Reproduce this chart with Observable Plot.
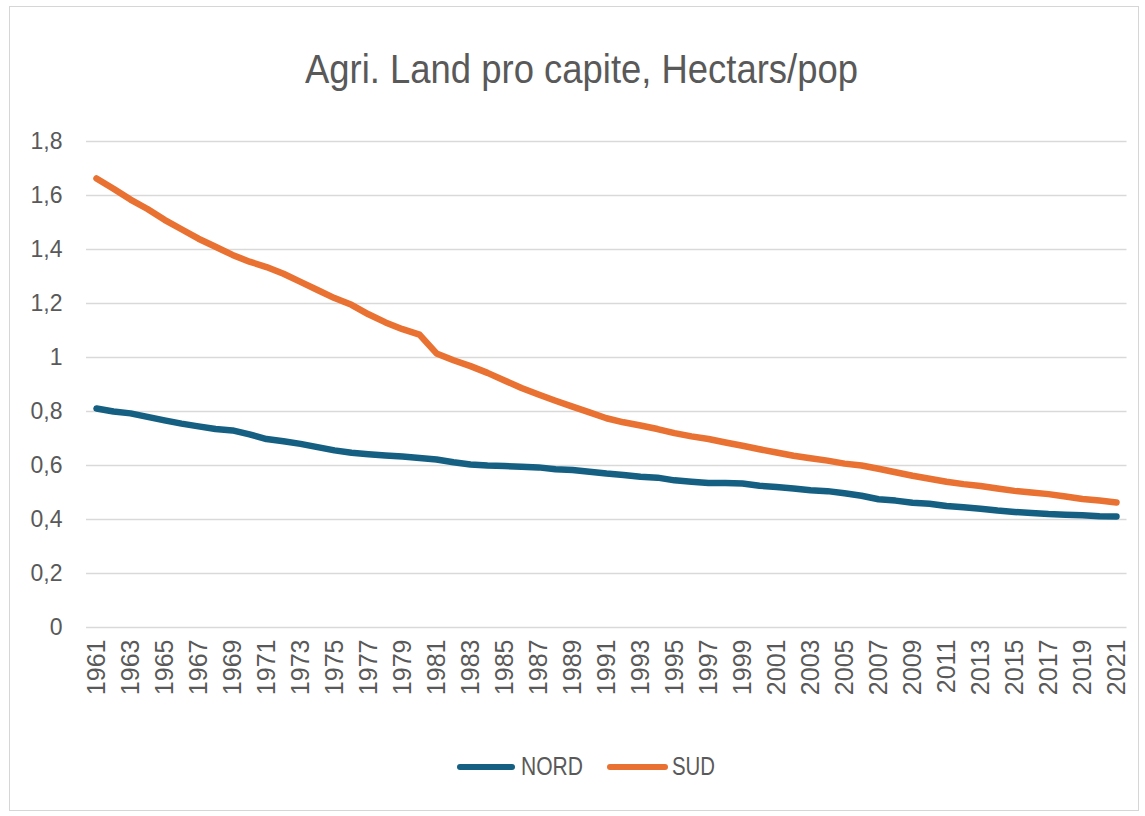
<!DOCTYPE html>
<html>
<head>
<meta charset="utf-8">
<script src="https://cdn.jsdelivr.net/npm/d3@7"></script>
<script src="https://cdn.jsdelivr.net/npm/@observablehq/plot@0.6"></script>
<style>
  html, body { margin: 0; padding: 0; background: #ffffff; }
  body { width: 1145px; height: 816px; position: relative; overflow: hidden; font-family: "Liberation Sans", Arial, sans-serif; }
  #frame { position: absolute; left: 9px; top: 6px; width: 1130px; height: 805px; border: 1.5px solid #d6d6d6; box-sizing: border-box; }
  #chart { position: absolute; left: 0; top: 0; }
  .txt { position: absolute; white-space: nowrap; color: #595959; transform-origin: 0 0; }
  #title { font-size: 40px; line-height: 40px; top: 49px; }
  .leg { font-size: 26px; line-height: 26px; top: 753px; }
  .sw { position: absolute; height: 6px; border-radius: 3px; top: 764px; }
</style>
</head>
<body>
<div id="frame"></div>
<div id="chart"></div>
<div id="title" class="txt">Agri. Land pro capite, Hectars/pop</div>
<div class="sw" style="left:457px;width:58px;background:#156082"></div>
<div id="legN" class="txt leg">NORD</div>
<div class="sw" style="left:607px;width:61px;background:#E97132"></div>
<div id="legS" class="txt leg">SUD</div>
<script>
const years = [1961,1962,1963,1964,1965,1966,1967,1968,1969,1970,
  1971,1972,1973,1974,1975,1976,1977,1978,1979,1980,
  1981,1982,1983,1984,1985,1986,1987,1988,1989,1990,
  1991,1992,1993,1994,1995,1996,1997,1998,1999,2000,
  2001,2002,2003,2004,2005,2006,2007,2008,2009,2010,
  2011,2012,2013,2014,2015,2016,2017,2018,2019,2020,2021];

const nord = [0.811,0.800,0.793,0.780,0.767,0.755,0.745,0.735,0.730,0.715,
  0.698,0.690,0.680,0.668,0.656,0.647,0.642,0.637,0.633,0.628,
  0.622,0.612,0.604,0.600,0.598,0.595,0.593,0.586,0.583,0.577,
  0.570,0.565,0.558,0.555,0.545,0.540,0.535,0.535,0.533,0.525,
  0.520,0.515,0.508,0.505,0.497,0.488,0.475,0.470,0.462,0.458,
  0.450,0.445,0.440,0.433,0.428,0.424,0.420,0.418,0.416,0.412,0.411];

const sud = [1.663,1.625,1.585,1.550,1.510,1.475,1.440,1.410,1.380,1.355,
  1.335,1.310,1.280,1.250,1.220,1.195,1.160,1.130,1.105,1.085,
  1.015,0.990,0.968,0.943,0.915,0.887,0.863,0.840,0.818,0.797,
  0.775,0.760,0.748,0.735,0.720,0.708,0.698,0.685,0.673,0.660,
  0.648,0.636,0.627,0.618,0.607,0.600,0.588,0.575,0.562,0.551,
  0.540,0.531,0.524,0.515,0.506,0.500,0.494,0.485,0.476,0.470,0.463];

const yTicks = [0, 0.2, 0.4, 0.6, 0.8, 1, 1.2, 1.4, 1.6, 1.8];
const xTicks = [1961,1963,1965,1967,1969,1971,1973,1975,1977,1979,1981,1983,1985,1987,1989,
  1991,1993,1995,1997,1999,2001,2003,2005,2007,2009,2011,2013,2015,2017,2019,2021];

const series = [
  {name: "NORD", values: nord, color: "#156082"},
  {name: "SUD", values: sud, color: "#E97132"}
];
const rows = series.flatMap(s => years.map((yr, i) => ({series: s.name, year: yr, value: s.values[i]})));

const chart = Plot.plot({
  width: 1145,
  height: 720,
  marginLeft: 86,
  marginRight: 18.5,
  marginTop: 141,
  marginBottom: 93,
  style: {fontFamily: "'Liberation Sans', Arial, sans-serif", color: "#595959", background: "transparent", overflow: "visible"},
  x: {type: "point", domain: years, padding: 0.5},
  y: {domain: [0, 1.8]},
  color: {domain: series.map(s => s.name), range: series.map(s => s.color)},
  marks: [
    Plot.ruleY(yTicks, {stroke: "#d9d9d9", strokeWidth: 1.5}),
    Plot.axisY(yTicks, {tickSize: 0, tickPadding: 24, fontSize: 23, tickFormat: d => String(d).replace(".", ","), label: null}),
    Plot.axisX(xTicks, {tickSize: 0, tickPadding: 12, tickRotate: -90, fontSize: 25, tickFormat: d => String(d), label: null}),
    Plot.line(rows, {x: "year", y: "value", z: "series", stroke: "series", strokeWidth: 6.5, strokeLinecap: "round", strokeLinejoin: "round"})
  ]
});
document.getElementById("chart").appendChild(chart);

function fit(id, left, width) {
  const el = document.getElementById(id);
  el.style.left = left + "px";
  const w = el.getBoundingClientRect().width;
  el.style.transform = "scaleX(" + (width / w) + ")";
}
fit("title", 305, 553);
fit("legN", 521, 62);
fit("legS", 672, 43);
</script>
</body>
</html>
